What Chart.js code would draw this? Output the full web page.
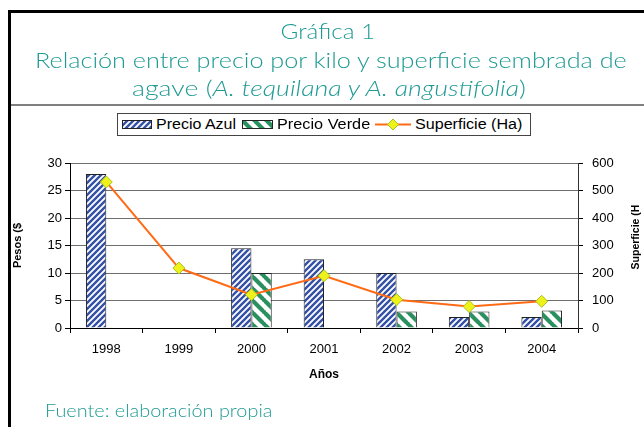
<!DOCTYPE html>
<html><head><meta charset="utf-8">
<script src="https://cdn.jsdelivr.net/npm/chart.js@4.4.1/dist/chart.umd.min.js"></script>
<style>
html,body{margin:0;padding:0;background:#fff;width:644px;height:427px;overflow:hidden;}
#wrap{position:relative;width:644px;height:427px;}
#frameL{position:absolute;left:8px;top:10px;width:3px;height:417px;background:#000;}
#frameT{position:absolute;left:8px;top:10px;width:636px;height:3px;background:#000;}
#sep{position:absolute;left:11px;top:104px;width:633px;height:2px;background:#808080;}
.t{position:absolute;white-space:nowrap;color:#1f9a93;font-family:"Lato","Open Sans",sans-serif;font-weight:300;line-height:1;transform-origin:center top;}
#c{position:absolute;left:0;top:0;}
#legend{position:absolute;left:117px;top:113px;width:414px;height:23px;border:1px solid #444;box-sizing:border-box;background:#fff;font-family:"Liberation Sans",Arial,sans-serif;font-size:14px;color:#000;}
#legend .it{position:absolute;top:2px;white-space:nowrap;transform-origin:left top;}
#legend canvas{position:absolute;}
</style></head>
<body><div id="wrap">
<canvas id="c" width="644" height="427"></canvas>
<div id="frameL"></div><div id="frameT"></div><div id="sep"></div>
<div class="t" id="t1" data-w="95" data-cx="328" style="top:20px;font-size:22px;">Gráfica 1</div>
<div class="t" id="t2" data-w="592" data-cx="331" style="top:49px;font-size:22px;">Relación entre precio por kilo y superficie sembrada de</div>
<div class="t" id="t3" data-w="394" data-cx="329" style="top:77px;font-size:22px;">agave (<i>A. tequilana y A. angustifolia</i>)</div>
<div class="t" id="foot" data-w="228" data-left="45" style="top:402px;font-size:17px;transform-origin:left top;">Fuente: elaboración propia</div>
<div id="legend">
  <canvas id="swA" width="30" height="9" style="left:4px;top:6px;"></canvas>
  <span class="it" data-w="80" style="left:38px;">Precio Azul</span>
  <canvas id="swV" width="31" height="9" style="left:124px;top:6px;"></canvas>
  <span class="it" data-w="93" style="left:159px;">Precio Verde</span>
  <canvas id="swL" width="36" height="13" style="left:257px;top:4px;"></canvas>
  <span class="it" data-w="107" style="left:297px;">Superficie (Ha)</span>
</div>
</div>
<script>
const categories = ['1998', '1999', '2000', '2001', '2002', '2003', '2004'];
const precioAzul = [28, null, 14.5, 12.5, 10, 2, 2];
const precioVerde = [null, null, 10, null, 3, 3, 3.2];
const superficie = [531, 218, 121, 190, 103, 78, 97];
const pesosTicks = [0, 5, 10, 15, 20, 25, 30];
const superficieTicks = [0, 100, 200, 300, 400, 500, 600];

const BLUE = '#3451a6', GREEN = '#2a9060', ORANGE = '#ff6a14', YEL = '#eef21a';

function stripeTile(size, color, lw, dir) {
  const cv = document.createElement('canvas');
  cv.width = size; cv.height = size;
  const x = cv.getContext('2d');
  x.fillStyle = '#fff'; x.fillRect(0, 0, size, size);
  x.strokeStyle = color; x.lineWidth = lw;
  x.beginPath();
  if (dir === '/') {
    x.moveTo(-1, size + 1); x.lineTo(size + 1, -1);
    x.moveTo(-1, 1); x.lineTo(1, -1);
    x.moveTo(size - 1, size + 1); x.lineTo(size + 1, size - 1);
  } else {
    x.moveTo(-1, -1); x.lineTo(size + 1, size + 1);
    x.moveTo(size - 1, -1); x.lineTo(size + 1, 1);
    x.moveTo(-1, size - 1); x.lineTo(1, size + 1);
  }
  x.stroke();
  return cv;
}
const tileA = stripeTile(6, BLUE, 2.4, '/');
const tileV = stripeTile(12, GREEN, 4.2, '\\');
const ctx = document.getElementById('c').getContext('2d');
const patA = ctx.createPattern(tileA, 'repeat');
const patV = ctx.createPattern(tileV, 'repeat');

function swatch(id, tile) {
  const cv = document.getElementById(id), x = cv.getContext('2d');
  x.fillStyle = x.createPattern(tile, 'repeat'); x.fillRect(0, 0, cv.width, cv.height);
  x.strokeStyle = '#222'; x.lineWidth = 1; x.strokeRect(0.5, 0.5, cv.width - 1, cv.height - 1);
}
swatch('swA', tileA); swatch('swV', tileV);
(function () {
  const cv = document.getElementById('swL'), x = cv.getContext('2d');
  x.strokeStyle = ORANGE; x.lineWidth = 2;
  x.beginPath(); x.moveTo(0, 6.5); x.lineTo(36, 6.5); x.stroke();
  x.fillStyle = YEL; x.strokeStyle = '#a5c020'; x.lineWidth = 1;
  x.beginPath(); x.moveTo(18, 1); x.lineTo(23.5, 6.5); x.lineTo(18, 12); x.lineTo(12.5, 6.5); x.closePath();
  x.fill(); x.stroke();
})();

document.querySelectorAll('.t').forEach(el => {
  const w = el.offsetWidth, k = (+el.dataset.w) / w;
  if (el.dataset.left) {
    el.style.left = el.dataset.left + 'px';
  } else {
    el.style.left = (+el.dataset.cx - w / 2) + 'px';
  }
  el.style.transform = 'scaleX(' + k + ')';
});
document.querySelectorAll('#legend .it').forEach(el => {
  const k = (+el.dataset.w) / el.offsetWidth;
  el.style.transform = 'scaleX(' + k + ')';
});

const rightTitle = {
  id: 'rightTitle',
  afterDraw(chart) {
    const c = chart.ctx;
    c.save();
    c.translate(636, 237);
    c.rotate(-Math.PI / 2);
    c.font = 'bold 10.5px "Liberation Sans", Arial, sans-serif';
    c.fillStyle = '#000';
    c.textAlign = 'center'; c.textBaseline = 'middle';
    c.fillText('Superficie (H', 0, 0);
    c.restore();
  }
};

const tickFont = { family: '"Liberation Sans", Arial, sans-serif', size: 13 };

new Chart(ctx, {
  type: 'bar',
  data: {
    labels: categories,
    datasets: [
      { type: 'line', label: 'Superficie (Ha)', data: superficie, yAxisID: 'y1', order: 0,
        borderColor: ORANGE, borderWidth: 2, tension: 0, fill: false,
        pointStyle: 'rectRot', pointRadius: 6, pointBackgroundColor: YEL,
        pointBorderColor: '#a5c020', pointBorderWidth: 1 },
      { label: 'Precio Azul', data: precioAzul, yAxisID: 'y', order: 1,
        backgroundColor: patA, borderColor: '#222', borderWidth: 1,
        categoryPercentage: 0.56, barPercentage: 1 },
      { label: 'Precio Verde', data: precioVerde, yAxisID: 'y', order: 1,
        backgroundColor: patV, borderColor: '#222', borderWidth: 1,
        categoryPercentage: 0.56, barPercentage: 1 }
    ]
  },
  options: {
    responsive: false, animation: false,
    layout: { padding: { top: 163, left: 10, right: 0, bottom: 45 } },
    plugins: { legend: { display: false }, tooltip: { enabled: false }, title: { display: false } },
    scales: {
      x: {
        offset: true,
        grid: { display: true, drawOnChartArea: false, drawTicks: true, tickLength: 5, tickColor: '#000', offset: true },
        border: { color: '#000', width: 1 },
        ticks: { color: '#000', font: tickFont, padding: 9, maxRotation: 0 },
        title: { display: true, text: 'Años', color: '#000', padding: { top: 0, bottom: 0 },
          font: { family: '"Liberation Sans", Arial, sans-serif', size: 12, weight: 'bold' } },
        afterFit(s) { s.height = 54; }
      },
      y: {
        position: 'left', min: 0, max: 30,
        afterBuildTicks(s) { s.ticks = pesosTicks.map(v => ({ value: v })); },
        grid: { color: '#6e6e6e', tickColor: '#000', tickLength: 5, lineWidth: 1 },
        border: { color: '#000', width: 1 },
        ticks: { color: '#000', font: tickFont, padding: 3 },
        title: { display: true, text: 'Pesos ($', color: '#000', padding: { top: 1, bottom: 0 },
          font: { family: '"Liberation Sans", Arial, sans-serif', size: 11, weight: 'bold' } },
        afterFit(s) { s.width = 60; }
      },
      y1: {
        position: 'right', min: 0, max: 600,
        afterBuildTicks(s) { s.ticks = superficieTicks.map(v => ({ value: v })); },
        grid: { drawOnChartArea: false, tickColor: '#000', tickLength: 5 },
        border: { color: '#333', width: 1 },
        ticks: { color: '#000', font: tickFont, padding: 9 },
        afterFit(s) { s.width = 66; }
      }
    }
  },
  plugins: [rightTitle]
});
</script>
</body></html>
